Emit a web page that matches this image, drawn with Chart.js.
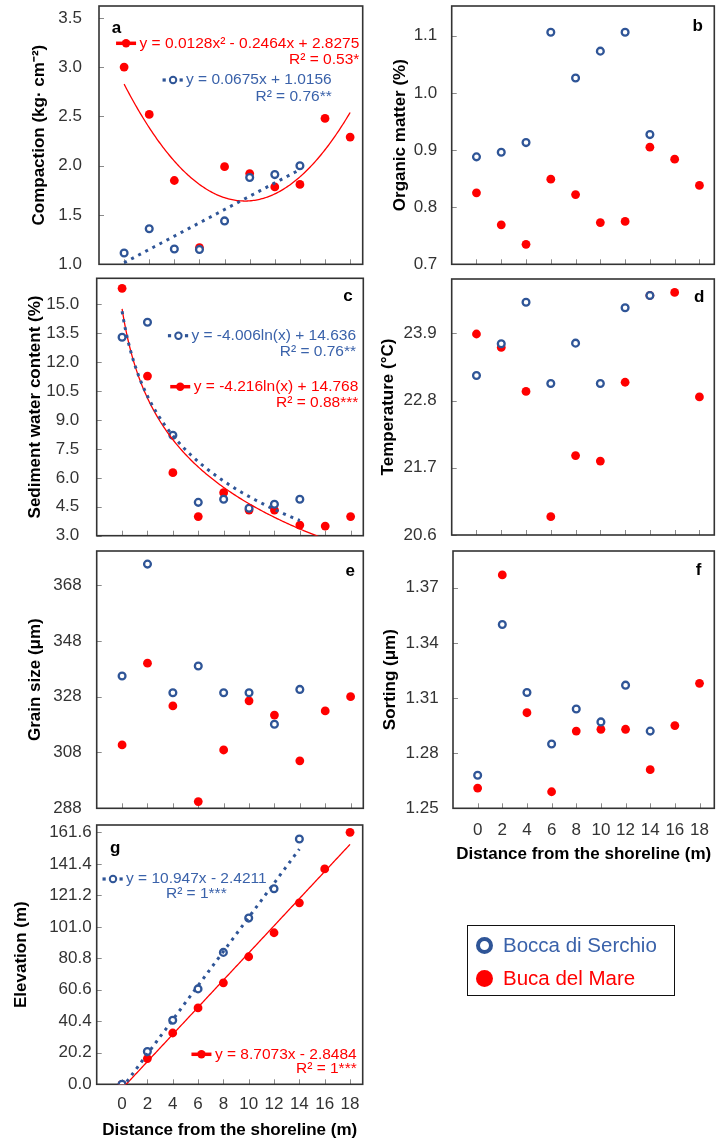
<!DOCTYPE html>
<html><head><meta charset="utf-8">
<script src="https://cdn.jsdelivr.net/npm/chart.js@4.4.0/dist/chart.umd.min.js"></script>
<style>
html,body{margin:0;padding:0;background:#fff;}
#wrap{position:relative;width:720px;height:1141px;overflow:hidden;font-family:"Liberation Sans",Arial,sans-serif;}
#wrap canvas{position:absolute;left:0;top:0;}
.abs{position:absolute;box-sizing:border-box;}
</style></head><body>
<div id="wrap">
<canvas id="pa" width="720" height="1141"></canvas>
<canvas id="pb" width="720" height="1141"></canvas>
<canvas id="pc" width="720" height="1141"></canvas>
<canvas id="pd" width="720" height="1141"></canvas>
<canvas id="pe" width="720" height="1141"></canvas>
<canvas id="pf" width="720" height="1141"></canvas>
<canvas id="pg" width="720" height="1141"></canvas>
<div class="abs" style="left:466.5px;top:925px;width:208.5px;height:71px;border:1.5px solid #111;"></div>
<div class="abs" style="left:475.5px;top:936.5px;width:17px;height:17px;border:4px solid #2F5597;border-radius:50%;"></div>
<div class="abs" style="left:475.5px;top:970px;width:17px;height:17px;background:#FF0000;border-radius:50%;"></div>
<div class="abs" id="lg1" style="left:503px;top:932.5px;font-size:20.5px;line-height:24px;color:#3A62AA;white-space:nowrap;">Bocca di Serchio</div>
<div class="abs" id="lg2" style="left:503px;top:966px;font-size:20.5px;line-height:24px;color:#FF0000;white-space:nowrap;">Buca del Mare</div>
</div>
<script>
// ---------------- data ----------------
const distances = [0, 2, 4, 6, 8, 10, 12, 14, 16, 18];
const xTicks = [0, 2, 4, 6, 8, 10, 12, 14, 16, 18];
const xTickLabels = ['0', '2', '4', '6', '8', '10', '12', '14', '16', '18'];

// a: Compaction (kg· cm-2)
const compactionBocca = [1.115, 1.36, 1.155, 1.15, 1.44, 1.88, 1.91, 2.00];
const compactionBuca = [3.00, 2.52, 1.85, 1.17, 1.99, 1.92, 1.785, 1.81, 2.48, 2.29];
const compactionTicks = [1.0, 1.5, 2.0, 2.5, 3.0, 3.5];
const compactionLabels = ['1.0', '1.5', '2.0', '2.5', '3.0', '3.5'];
const compactionBucaFit = [0.0128, -0.2464, 2.8275];   // quadratic
const compactionBoccaFit = [0.0675, 1.0156];           // linear

// b: Organic matter (%)
const organicBocca = [0.888, 0.896, 0.913, 1.106, 1.026, 1.073, 1.106, 0.927];
const organicBuca = [0.825, 0.769, 0.735, 0.849, 0.822, 0.773, 0.775, 0.905, 0.884, 0.838];
const organicTicks = [0.7, 0.8, 0.9, 1.0, 1.1];
const organicLabels = ['0.7', '0.8', '0.9', '1.0', '1.1'];

// c: Sediment water content (%)
const waterBocca = [13.29, 14.07, 8.21, 4.73, 4.89, 4.42, 4.63, 4.89];
const waterBuca = [15.83, 11.28, 6.27, 3.99, 5.23, 4.33, 4.33, 3.55, 3.50, 3.99];
const waterTicks = [3.0, 4.5, 6.0, 7.5, 9.0, 10.5, 12.0, 13.5, 15.0];
const waterLabels = ['3.0', '4.5', '6.0', '7.5', '9.0', '10.5', '12.0', '13.5', '15.0'];
const waterBoccaFit = [-4.006, 14.636];  // logarithmic
const waterBucaFit = [-4.216, 14.768];

// d: Temperature (°C)
const temperatureBocca = [23.21, 23.73, 24.41, 23.08, 23.74, 23.08, 24.32, 24.52];
const temperatureBuca = [23.89, 23.67, 22.95, 20.90, 21.90, 21.81, 23.10, 24.52, 24.57, 22.86];
const temperatureTicks = [20.6, 21.7, 22.8, 23.9];
const temperatureLabels = ['20.6', '21.7', '22.8', '23.9'];

// e: Grain size (μm)
const grainBocca = [335.4, 375.5, 329.4, 339.0, 329.4, 329.4, 318.1, 330.6];
const grainBuca = [310.7, 340.0, 324.7, 290.4, 308.9, 326.5, 321.4, 305.0, 322.9, 328.0];
const grainTicks = [288, 308, 328, 348, 368];
const grainLabels = ['288', '308', '328', '348', '368'];

// f: Sorting (μm)
const sortingBocca = [1.268, 1.350, 1.313, 1.285, 1.304, 1.297, 1.317, 1.292];
const sortingBuca = [1.261, 1.377, 1.302, 1.259, 1.292, 1.293, 1.293, 1.271, 1.295, 1.318];
const sortingTicks = [1.25, 1.28, 1.31, 1.34, 1.37];
const sortingLabels = ['1.25', '1.28', '1.31', '1.34', '1.37'];

// g: Elevation (m)
const elevationBocca = [0, 21.0, 41.1, 61.2, 84.6, 106.6, 125.4, 157.3];
const elevationBuca = [0, 16.5, 32.9, 49.0, 65.1, 81.8, 97.2, 116.4, 138.1, 161.6];
const elevationTicks = [0, 20.2, 40.4, 60.6, 80.8, 101.0, 121.2, 141.4, 161.6];
const elevationLabels = ['0.0', '20.2', '40.4', '60.6', '80.8', '101.0', '121.2', '141.4', '161.6'];
const elevationBoccaFit = [10.947, -2.4211];
const elevationBucaFit = [8.7073, -2.8484];

// ---------------- styling ----------------
const FONT = '"Liberation Sans", Arial, sans-serif';
const BLUE = '#2F5597', BLUE_TEXT = '#3A62AA', RED = '#FF0000';
Chart.defaults.font.family = FONT;

function pts(ys) { return ys.map((y, i) => ({ x: distances[i], y })); }
function fitCurve(fn, x0, x1) {
  const out = [];
  for (let k = 0; x0 + k * 0.1 <= x1 + 1e-9; k++) { const x = x0 + k * 0.1; out.push({ x, y: fn(x) }); }
  return out;
}
const quad = c => x => c[0] * x * x + c[1] * x + c[2];
const lin = c => x => c[0] * x + c[1];
const logf = c => x => c[0] * Math.log(x + 1) + c[1];

function deco(p) {
  return {
    id: 'deco',
    beforeDatasetsDraw(chart) {
      const { ctx, chartArea: a, scales } = chart;
      ctx.save();
      ctx.strokeStyle = '#8a8a8a'; ctx.lineWidth = 1;
      ctx.beginPath();
      xTicks.forEach(v => { const px = Math.round(scales.x.getPixelForValue(v)) + 0.5; ctx.moveTo(px, a.bottom); ctx.lineTo(px, a.bottom - 5); });
      p.yTicks.forEach(v => { const py = Math.round(scales.y.getPixelForValue(v)) + 0.5; ctx.moveTo(a.left, py); ctx.lineTo(a.left + 5, py); });
      ctx.stroke();
      ctx.strokeStyle = '#333'; ctx.lineWidth = 1.6;
      ctx.strokeRect(a.left, a.top, a.right - a.left, a.bottom - a.top);
      ctx.restore();
    },
    afterDatasetsDraw(chart) {
      const { ctx, chartArea: a } = chart;
      ctx.save();
      ctx.textBaseline = 'middle';
      ctx.font = 'bold 17px ' + FONT; ctx.fillStyle = '#000';
      if (p.letter.align === 'left') { ctx.textAlign = 'left'; ctx.fillText(p.letter.t, a.left + p.letter.dx, a.top + p.letter.dy); }
      else { ctx.textAlign = 'right'; ctx.fillText(p.letter.t, a.right - p.letter.dx, a.top + p.letter.dy); }
      ctx.font = '15.5px ' + FONT;
      (p.eqs || []).forEach(e => {
        const w = ctx.measureText(e.eq).width;
        let left;
        if (e.fromLeft !== undefined) left = a.left + e.fromLeft; else left = a.right - e.fromRight - w;
        const y1 = a.top + e.dy, y2 = a.top + e.dy2;
        ctx.fillStyle = e.color; ctx.textAlign = 'left';
        ctx.fillText(e.eq, left, y1);
        if (e.r2align === 'center') { ctx.textAlign = 'center'; ctx.fillText(e.r2, left + w / 2, y2); }
        else { ctx.textAlign = 'right'; ctx.fillText(e.r2, left + w, y2); }
        // legend key
        if (e.key === 'solid') {
          ctx.strokeStyle = RED; ctx.lineWidth = 3.5;
          ctx.beginPath(); ctx.moveTo(left - 23.5, y1); ctx.lineTo(left - 3.5, y1); ctx.stroke();
          ctx.fillStyle = RED; ctx.beginPath(); ctx.arc(left - 13.5, y1, 4.2, 0, Math.PI * 2); ctx.fill();
        } else {
          ctx.fillStyle = BLUE;
          ctx.fillRect(left - 23.5, y1 - 1.6, 3.2, 3.2);
          ctx.fillRect(left - 6.5, y1 - 1.6, 3.2, 3.2);
          ctx.strokeStyle = BLUE; ctx.lineWidth = 2;
          ctx.beginPath(); ctx.arc(left - 13, y1, 3.2, 0, Math.PI * 2); ctx.stroke();
        }
      });
      ctx.restore();
    }
  };
}

function panel(id, p) {
  const datasets = [];
  (p.fits || []).forEach(f => datasets.push({
    data: f.points, showLine: true, pointRadius: 0, borderColor: f.color, borderWidth: f.width,
    borderDash: f.dash || [], borderCapStyle: 'butt', fill: false
  }));
  datasets.push({ data: pts(p.bocca), pointRadius: 3.4, pointBorderWidth: 2.3, pointBorderColor: BLUE, pointBackgroundColor: '#fff', pointHoverRadius: 3.4 });
  datasets.push({ data: pts(p.buca), pointRadius: 4.4, pointBorderWidth: 0, pointBorderColor: RED, pointBackgroundColor: RED, pointHoverRadius: 4.4 });
  const titleFont = { size: 17, weight: 'bold', family: FONT };
  new Chart(document.getElementById(id), {
    type: 'scatter',
    data: { datasets },
    plugins: [deco(p)],
    options: {
      responsive: false, animation: false, devicePixelRatio: 1, events: [],
      layout: { padding: p.pad },
      plugins: { legend: { display: false }, tooltip: { enabled: false } },
      scales: {
        x: {
          type: 'linear', min: p.xMin, max: p.xMax, display: !!p.xLabels,
          grid: { display: false, drawTicks: false }, border: { display: false },
          ticks: { autoSkip: false, maxRotation: 0, minRotation: 0, padding: p.xPad || 0, font: { size: 17, family: FONT }, color: '#333', callback: (v, i) => xTickLabels[i] },
          afterBuildTicks: s => { s.ticks = xTicks.map(v => ({ value: v })); },
          afterFit: s => { s.height = p.xH || 0; s.paddingLeft = 0; s.paddingRight = 0; s.paddingTop = 0; s.paddingBottom = 0; },
          title: { display: !!p.xLabels, text: 'Distance from the shoreline (m)', font: titleFont, color: '#000', padding: 0 }
        },
        y: {
          type: 'linear', min: p.yMin, max: p.yMax,
          grid: { display: false, drawTicks: false }, border: { display: false },
          ticks: { padding: p.yPad, font: { size: 17, family: FONT }, color: '#333', callback: (v, i) => p.yLabels[i] },
          afterBuildTicks: s => { s.ticks = p.yTicks.map(v => ({ value: v })); },
          afterFit: s => { s.width = p.yW; s.paddingLeft = 0; s.paddingRight = 0; s.paddingTop = 0; s.paddingBottom = 0; },
          title: { display: true, text: p.yTitle, font: titleFont, color: '#000', padding: 0 }
        }
      }
    }
  });
}

panel('pa', {
  bocca: compactionBocca, buca: compactionBuca, yTicks: compactionTicks, yLabels: compactionLabels,
  yMin: 1.0, yMax: 3.62, xMin: -2, xMax: 19, yTitle: 'Compaction (kg· cm⁻²)',
  pad: { left: 29.5, top: 6, right: 357.3, bottom: 876.7 }, yW: 69.5, yPad: 17,
  fits: [
    { points: fitCurve(lin(compactionBoccaFit), 0, 14), color: BLUE, width: 3, dash: [3, 5] },
    { points: fitCurve(quad(compactionBucaFit), 0, 18), color: RED, width: 1.3 }
  ],
  letter: { t: 'a', align: 'left', dx: 12.7, dy: 22 },
  eqs: [
    { eq: 'y = 0.0128x² - 0.2464x + 2.8275', r2: 'R² = 0.53*', color: RED, key: 'solid', fromRight: 3.4, dy: 37.3, dy2: 54 },
    { eq: 'y = 0.0675x + 1.0156', r2: 'R² = 0.76**', color: BLUE_TEXT, key: 'dot', fromRight: 31, dy: 74, dy2: 90.7 }
  ]
});
panel('pb', {
  bocca: organicBocca, buca: organicBuca, yTicks: organicTicks, yLabels: organicLabels,
  yMin: 0.7, yMax: 1.152, xMin: -2, xMax: 19.2, yTitle: 'Organic matter (%)',
  pad: { left: 389.8, top: 6, right: 1.7, bottom: 876.7 }, yW: 61.9, yPad: 14.4,
  letter: { t: 'b', align: 'right', dx: 11.3, dy: 20 }
});
panel('pc', {
  bocca: waterBocca, buca: waterBuca, yTicks: waterTicks, yLabels: waterLabels,
  yMin: 3.0, yMax: 16.35, xMin: -2, xMax: 19, yTitle: 'Sediment water content (%)',
  pad: { left: 24.8, top: 278.3, right: 356.7, bottom: 605.3 }, yW: 71.9, yPad: 17.4,
  fits: [
    { points: fitCurve(logf(waterBoccaFit), 0, 14), color: BLUE, width: 3, dash: [3, 5] },
    { points: fitCurve(logf(waterBucaFit), 0, 18), color: RED, width: 1.3 }
  ],
  letter: { t: 'c', align: 'right', dx: 10.6, dy: 18.4 },
  eqs: [
    { eq: 'y = -4.006ln(x) + 14.636', r2: 'R² = 0.76**', color: BLUE_TEXT, key: 'dot', fromRight: 7.3, dy: 57.4, dy2: 73.4 },
    { eq: 'y = -4.216ln(x) + 14.768', r2: 'R² = 0.88***', color: RED, key: 'solid', fromRight: 5, dy: 108.4, dy2: 124.4 }
  ]
});
panel('pd', {
  bocca: temperatureBocca, buca: temperatureBuca, yTicks: temperatureTicks, yLabels: temperatureLabels,
  yMin: 20.6, yMax: 24.79, xMin: -2, xMax: 19.2, yTitle: 'Temperature (°C)',
  pad: { left: 378.1, top: 279, right: 1.7, bottom: 606 }, yW: 73.6, yPad: 15,
  letter: { t: 'd', align: 'right', dx: 10, dy: 18.3 }
});
panel('pe', {
  bocca: grainBocca, buca: grainBuca, yTicks: grainTicks, yLabels: grainLabels,
  yMin: 288, yMax: 380.2, xMin: -2, xMax: 19, yTitle: 'Grain size (μm)',
  pad: { left: 24.8, top: 551, right: 356.7, bottom: 332.7 }, yW: 71.9, yPad: 15,
  letter: { t: 'e', align: 'right', dx: 8.3, dy: 20 }
});
panel('pf', {
  bocca: sortingBocca, buca: sortingBuca, yTicks: sortingTicks, yLabels: sortingLabels,
  yMin: 1.25, yMax: 1.39, xMin: -2, xMax: 19.2, yTitle: 'Sorting (μm)',
  pad: { left: 379.8, top: 551, right: 1.7, bottom: 276 }, yW: 73.2, yPad: 14.4,
  xLabels: true, xH: 56.7, xPad: 12.2,
  letter: { t: 'f', align: 'right', dx: 13, dy: 19 }
});
panel('pg', {
  bocca: elevationBocca, buca: elevationBuca, yTicks: elevationTicks, yLabels: elevationLabels,
  yMin: 0, yMax: 166.3, xMin: -2, xMax: 19, yTitle: 'Elevation (m)',
  pad: { left: 11.5, top: 825, right: 357.3, bottom: 0.4 }, yW: 85.2, yPad: 5,
  xLabels: true, xH: 56.3, xPad: 9.5,
  fits: [
    { points: fitCurve(lin(elevationBoccaFit), 0, 14), color: BLUE, width: 3, dash: [3, 5] },
    { points: fitCurve(lin(elevationBucaFit), 0, 18), color: RED, width: 1.3 }
  ],
  letter: { t: 'g', align: 'left', dx: 13.3, dy: 23.3 },
  eqs: [
    { eq: 'y = 10.947x - 2.4211', r2: 'R² = 1***', color: BLUE_TEXT, key: 'dot', fromLeft: 29.3, r2align: 'center', dy: 54, dy2: 68.3 },
    { eq: 'y = 8.7073x - 2.8484', r2: 'R² = 1***', color: RED, key: 'solid', fromRight: 6, dy: 229.3, dy2: 243.3 }
  ]
});
</script>
</body></html>
